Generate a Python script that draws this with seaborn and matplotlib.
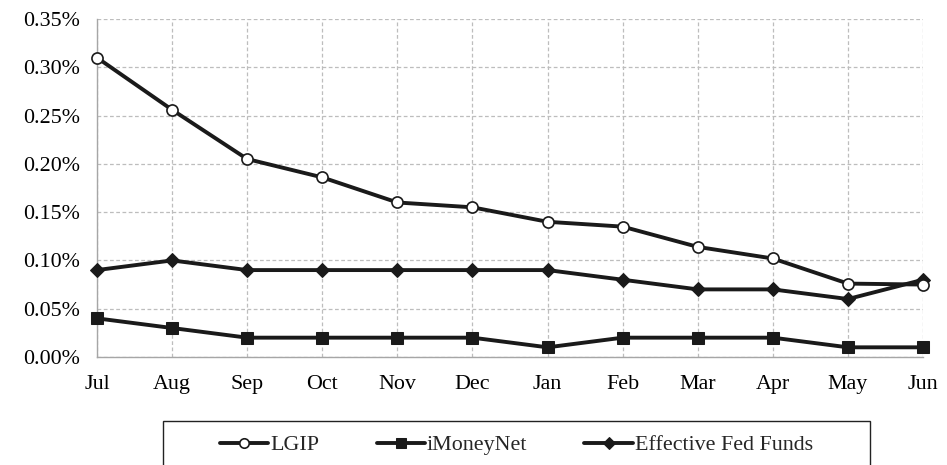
"""
Monthly yields: LGIP vs iMoneyNet vs Effective Fed Funds.
"""

import pandas as pd
import matplotlib
matplotlib.use("Agg")
from matplotlib import pyplot as plt
from matplotlib.patches import Rectangle
from matplotlib.ticker import FuncFormatter, MultipleLocator
import seaborn as sns


# === Data ===

months = ["Jul", "Aug", "Sep", "Oct", "Nov", "Dec", "Jan", "Feb", "Mar", "Apr", "May", "Jun"]
lgip = [0.310, 0.256, 0.205, 0.186, 0.160, 0.155, 0.140, 0.135, 0.114, 0.102, 0.076, 0.075]
imoneynet = [0.04, 0.03, 0.02, 0.02, 0.02, 0.02, 0.01, 0.02, 0.02, 0.02, 0.01, 0.01]
fed_funds = [0.09, 0.10, 0.09, 0.09, 0.09, 0.09, 0.09, 0.08, 0.07, 0.07, 0.06, 0.08]

series_names = ["LGIP", "iMoneyNet", "Effective Fed Funds"]


# === Style ===

sns.set_style("white")
plt.rcParams["font.family"] = ["Liberation Serif", "DejaVu Serif"]
fsize = 15.8
plt.rcParams["font.size"] = fsize

ink = "#1a1a1a"
grid_col = "#bdbdbd"
spine_col = "#a6a6a6"

styles = {
    "LGIP": dict(marker="o", markersize=8, markerfacecolor="white",
                 markeredgecolor=ink, markeredgewidth=1.2),
    "iMoneyNet": dict(marker="s", markersize=8.5, markerfacecolor=ink,
                      markeredgecolor=ink),
    "Effective Fed Funds": dict(marker="D", markersize=7, markerfacecolor=ink,
                                markeredgecolor=ink),
}


# === Plot ===

def main():
    fig = plt.figure(figsize=(9.47, 4.65), dpi=100)
    ax = fig.add_axes([0.1024, 0.2323, 0.8723, 0.7268])

    #== Draw series (fed funds first so LGIP sits on top)
    values = {"LGIP": lgip, "iMoneyNet": imoneynet, "Effective Fed Funds": fed_funds}
    handles = {}
    for name in ["Effective Fed Funds", "iMoneyNet", "LGIP"]:
        df = pd.DataFrame({"month": months, "value": values[name]})
        sns.lineplot(data=df, x="month", y="value", ax=ax, color=ink,
                     linewidth=2.8, clip_on=False, zorder=3, **styles[name])
        handles[name] = ax.lines[-1]

    #== Axes
    ax.set_xlim(0, len(months) - 1)
    ax.set_ylim(0, 0.35)
    ax.yaxis.set_major_locator(MultipleLocator(0.05))
    ax.yaxis.set_major_formatter(FuncFormatter(lambda v, p: "{:.2f}%".format(v)))
    ax.set_xlabel("")
    ax.set_ylabel("")

    ax.grid(True, color=grid_col, linestyle=(0, (3, 2)), linewidth=0.9)
    ax.set_axisbelow(True)
    for side in ["top", "right"]:
        ax.spines[side].set_visible(False)
    for side in ["left", "bottom"]:
        ax.spines[side].set_color(spine_col)
        ax.spines[side].set_linewidth(1.0)
    ax.tick_params(axis="x", length=5, color=spine_col, pad=8, labelsize=fsize,
                   labelcolor="black")
    ax.tick_params(axis="y", length=5, color=spine_col, pad=7, labelsize=fsize,
                   labelcolor="black")

    #== Legend: box runs off the bottom of the figure
    box = Rectangle((0.1721, -0.2), 0.7466, 0.2946, transform=fig.transFigure,
                    fill=False, edgecolor="#222222", linewidth=1.0)
    fig.patches.append(box)
    fig.legend([handles[n] for n in series_names], series_names,
               loc="center", bbox_to_anchor=(0.5454, 0.043), ncol=3,
               frameon=False, handlelength=2.2, handletextpad=0.1,
               columnspacing=2.6, fontsize=fsize, markerscale=0.85)

    fig.savefig("out.png", dpi=100)
    plt.close()


main()
